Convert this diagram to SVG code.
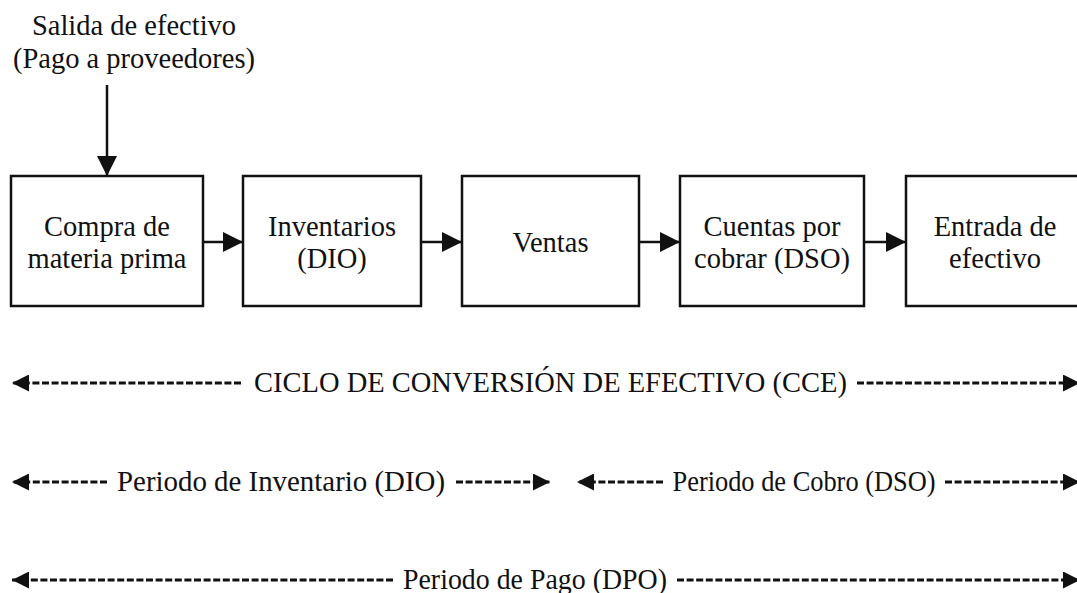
<svg xmlns="http://www.w3.org/2000/svg" width="1077" height="593" viewBox="0 0 1077 593">
<defs>
<style>
.t{font-family:"Liberation Serif","Times New Roman",serif;font-size:28.5px;fill:#111;text-anchor:middle}
.box{fill:#fff;stroke:#111;stroke-width:2.5}
.con{stroke:#111;stroke-width:2.5;fill:none}
.dash{stroke:#111;stroke-width:2.8;fill:none;stroke-dasharray:7 2.6}
</style>
<marker id="ah" markerUnits="userSpaceOnUse" markerWidth="20" markerHeight="20" viewBox="0 0 18 18" refX="18" refY="9" orient="auto">
<path d="M0,0 L18,9 L0,18 z" fill="#111"/>
</marker>
<marker id="ah2" markerUnits="userSpaceOnUse" markerWidth="18" markerHeight="17" viewBox="0 0 17 17" refX="17" refY="8.5" orient="auto">
<path d="M0,0 L17,8.5 L0,17 z" fill="#111"/>
</marker>
</defs>

<g id="salida">
<text class="t" x="134" y="35">Salida de efectivo</text>
<text class="t" x="134" y="68">(Pago a proveedores)</text>
</g>

<g id="compra">
<rect class="box" x="11" y="176" width="192" height="130"/>
<text class="t" x="107" y="236">Compra de</text>
<text class="t" x="107" y="268">materia prima</text>
</g>
<g id="inventarios">
<rect class="box" x="243" y="176" width="178" height="130"/>
<text class="t" x="332" y="236">Inventarios</text>
<text class="t" x="332" y="268">(DIO)</text>
</g>
<g id="ventas">
<rect class="box" x="462" y="176" width="177" height="130"/>
<text class="t" x="550.5" y="252">Ventas</text>
</g>
<g id="cuentas">
<rect class="box" x="680" y="176" width="184" height="130"/>
<text class="t" x="772" y="236">Cuentas por</text>
<text class="t" x="772" y="268">cobrar (DSO)</text>
</g>
<g id="entrada">
<rect class="box" x="906" y="176" width="180" height="130"/>
<text class="t" x="995" y="236">Entrada de</text>
<text class="t" x="995" y="268">efectivo</text>
</g>

<g id="connectors">
<line class="con" x1="107" y1="85" x2="107" y2="176" marker-end="url(#ah)"/>
<line class="con" x1="203" y1="242" x2="243" y2="242" marker-end="url(#ah)"/>
<line class="con" x1="421" y1="242" x2="462" y2="242" marker-end="url(#ah)"/>
<line class="con" x1="639" y1="242" x2="680" y2="242" marker-end="url(#ah)"/>
<line class="con" x1="864" y1="242" x2="906" y2="242" marker-end="url(#ah)"/>
</g>

<g id="cce">
<line class="dash" x1="241" y1="383" x2="12" y2="383" marker-end="url(#ah2)"/>
<text class="t" x="550.5" y="392">CICLO DE CONVERSIÓN DE EFECTIVO (CCE)</text>
<line class="dash" x1="857" y1="383" x2="1080" y2="383" marker-end="url(#ah2)"/>
</g>

<g id="dio">
<line class="dash" x1="107" y1="482" x2="12" y2="482" marker-end="url(#ah2)"/>
<text class="t" x="281" y="491" textLength="328" lengthAdjust="spacingAndGlyphs">Periodo de Inventario (DIO)</text>
<line class="dash" x1="456" y1="482" x2="550" y2="482" marker-end="url(#ah2)"/>
</g>

<g id="dso">
<line class="dash" x1="663" y1="482" x2="577" y2="482" marker-end="url(#ah2)"/>
<text class="t" x="804" y="491" textLength="263" lengthAdjust="spacingAndGlyphs">Periodo de Cobro (DSO)</text>
<line class="dash" x1="945" y1="482" x2="1080" y2="482" marker-end="url(#ah2)"/>
</g>

<g id="dpo">
<line class="dash" x1="393" y1="580" x2="12" y2="580" marker-end="url(#ah2)"/>
<text class="t" x="535" y="589" textLength="264" lengthAdjust="spacingAndGlyphs">Periodo de Pago (DPO)</text>
<line class="dash" x1="677" y1="580" x2="1080" y2="580" marker-end="url(#ah2)"/>
</g>
</svg>
